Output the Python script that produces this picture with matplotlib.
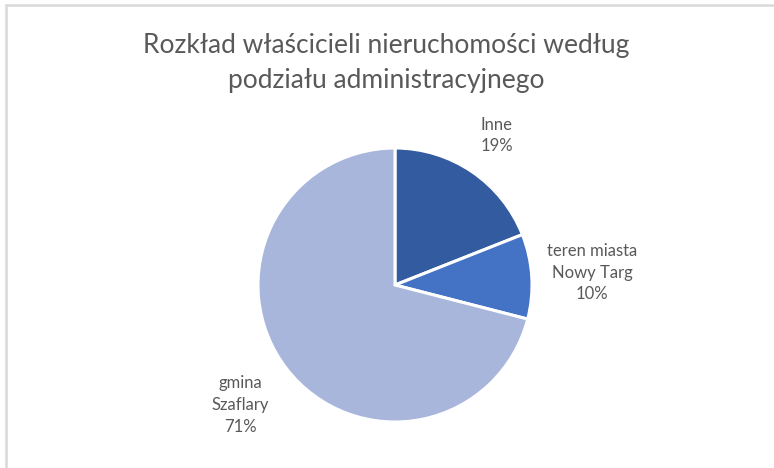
import numpy as np
import matplotlib.pyplot as plt
from matplotlib.patches import Rectangle

# Dane
labels = ['Inne', 'teren miasta\nNowy Targ', 'gmina\nSzaflary']
values = [19, 10, 71]
colors = ['#335B9F', '#4472C4', '#A9B6DC']
label_dist = [1.32, 1.44, 1.43]

plt.rcParams['font.family'] = ['Lato', 'DejaVu Sans']

W, H = 774, 468
fig = plt.figure(figsize=(W / 100, H / 100), dpi=100)

# ramka wykresu (widoczna u góry i z lewej)
fig.patches.append(Rectangle((6 / W, -0.1), 1.2, 1 - 5 / H + 0.1,
                             transform=fig.transFigure, fill=False,
                             edgecolor='#D9D9D9', linewidth=1.8))

# oś koła: środek (395, 285), promień 137 px
cx, cy, r = 395, 285, 137
ax = fig.add_axes([(cx - r) / W, (H - cy - r) / H, 2 * r / W, 2 * r / H])
wedges, _ = ax.pie(values, colors=colors, startangle=90, counterclock=False,
                   wedgeprops=dict(edgecolor='white', linewidth=2.2))
ax.set_xlim(-1, 1)
ax.set_ylim(-1, 1)

total = sum(values)
for w, lab, v, d in zip(wedges, labels, values, label_dist):
    ang = np.deg2rad((w.theta1 + w.theta2) / 2)
    ax.text(d * np.cos(ang), d * np.sin(ang), f'{lab}\n{round(100 * v / total)}%',
            ha='center', va='center', fontsize=12, color='#595959',
            linespacing=1.45, clip_on=False)

fig.text(386 / W, 1 - 63 / H, 'Rozkład właścicieli nieruchomości według\npodziału administracyjnego',
         ha='center', va='center', fontsize=19, color='#595959', linespacing=1.5)

plt.savefig('out.png', dpi=100)
